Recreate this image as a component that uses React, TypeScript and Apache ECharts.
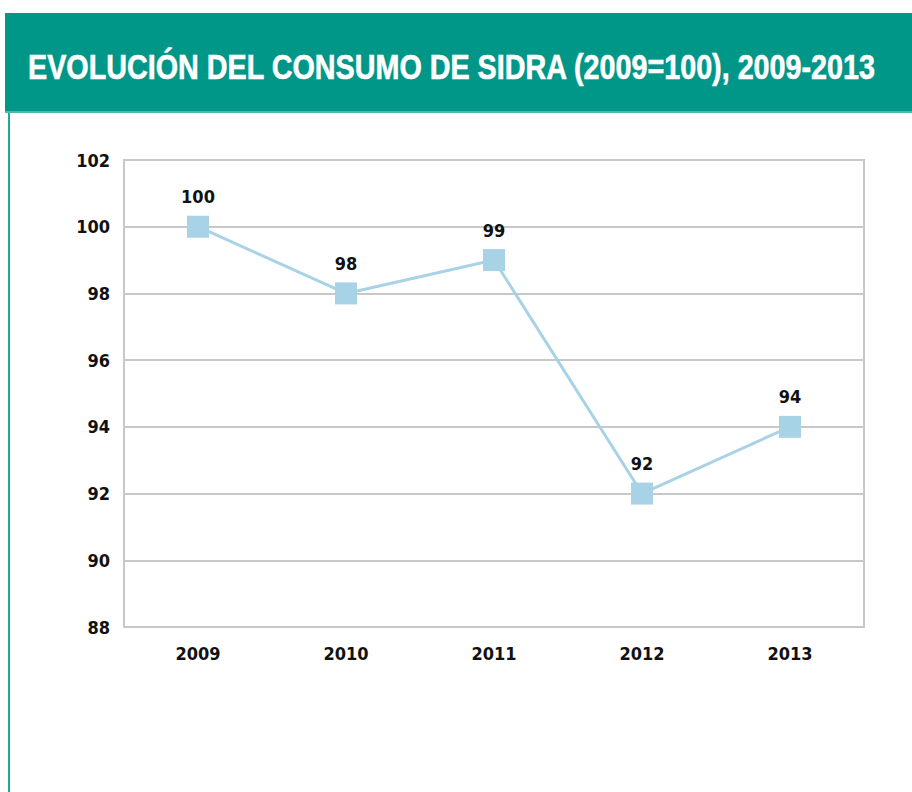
import React, { useEffect, useRef } from "react";
import * as echarts from "echarts";

const titleText = "EVOLUCIÓN DEL CONSUMO DE SIDRA (2009=100), 2009-2013";
const years = ["2009", "2010", "2011", "2012", "2013"];
const values = [100, 98, 99, 92, 94];
const yMin = 88;
const yMax = 102;
const yStep = 2;

export default function App() {
  const ref = useRef<HTMLDivElement>(null);
  useEffect(() => {
    if (!ref.current) return;
    const chart = echarts.init(ref.current, null, { renderer: "svg" });
    const font = "'Liberation Sans Narrow', 'DejaVu Sans Condensed', Arial, sans-serif";
    const titleFont = "bold 35px 'Liberation Sans', Arial, sans-serif";
    let titleScale = 0.8;
    try {
      const c = document.createElement("canvas").getContext("2d");
      if (c) {
        c.font = titleFont;
        const w = c.measureText(titleText).width;
        if (w > 0) titleScale = 849 / w;
      }
    } catch (e) {}
    chart.setOption({
      animation: false,
      backgroundColor: "#ffffff",
      graphic: [
        { type: "rect", shape: { x: 5, y: 13, width: 907, height: 100 }, style: { fill: "#009789" }, z: 0 },
        { type: "rect", shape: { x: 5, y: 111, width: 907, height: 2 }, style: { fill: "#4fb8ad" }, z: 1 },
        { type: "rect", shape: { x: 8, y: 113, width: 2, height: 679 }, style: { fill: "#1fa99b" }, z: 1 },
        {
          type: "text",
          x: 28,
          y: 67,
          scaleX: titleScale,
          style: {
            text: titleText,
            fill: "#ffffff",
            font: titleFont,
            textVerticalAlign: "middle",
            stroke: "#ffffff",
            lineWidth: 0.6,
          },
          z: 2,
        },
      ],
      grid: {
        left: 124,
        right: 48,
        top: 160,
        bottom: 165,
        show: true,
        borderColor: "#c8c8c8",
        borderWidth: 2,
      },
      xAxis: {
        type: "category",
        data: years,
        boundaryGap: true,
        axisLine: { show: true, lineStyle: { color: "#c8c8c8", width: 2 } },
        axisTick: { show: false },
        axisLabel: {
          color: "#111",
          fontFamily: font,
          fontWeight: "bold",
          fontSize: 18,
          margin: 17,
        },
      },
      yAxis: {
        type: "value",
        min: yMin,
        max: yMax,
        interval: yStep,
        axisLine: { show: true, lineStyle: { color: "#c8c8c8", width: 2 } },
        axisTick: { show: false },
        splitLine: { show: true, lineStyle: { color: "#c8c8c8", width: 2 } },
        axisLabel: {
          color: "#111",
          fontFamily: font,
          fontWeight: "bold",
          fontSize: 18,
          margin: 14,
        },
      },
      series: [
        {
          type: "line",
          data: values,
          symbol: "rect",
          symbolSize: 22,
          itemStyle: { color: "#a8d3e7" },
          lineStyle: { color: "#a8d3e7", width: 3 },
          label: {
            show: true,
            position: "top",
            distance: 10,
            color: "#111",
            fontFamily: font,
            fontWeight: "bold",
            fontSize: 18,
          },
        },
      ],
    });
    return () => chart.dispose();
  }, []);
  return (
    <div
      ref={ref}
      style={{ position: "fixed", left: 0, top: 0, width: 912, height: 792 }}
    />
  );
}
